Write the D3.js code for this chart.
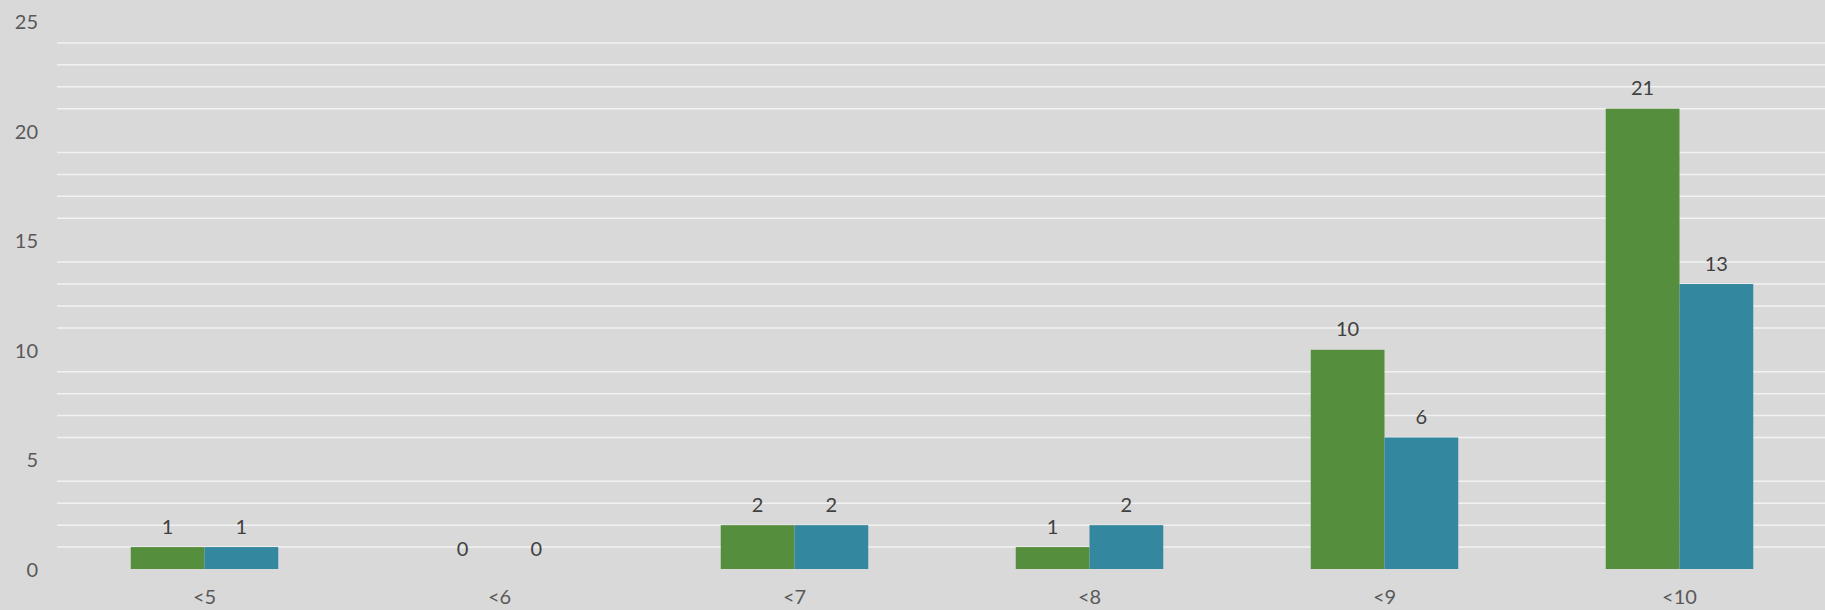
<!DOCTYPE html>
<html>
<head>
<meta charset="utf-8">
<script src="https://cdn.jsdelivr.net/npm/d3@7/dist/d3.min.js"></script>
<style>
  html, body { margin: 0; padding: 0; background: #D9D9D9; }
  svg { display: block; }
  text { font-family: "Lato", "Open Sans", sans-serif; }
</style>
</head>
<body>
<svg id="chart" width="1825" height="610"></svg>
<script>
const categories = ["<5", "<6", "<7", "<8", "<9", "<10"];
const seriesNames = ["A", "B"];
const seriesA = [1, 0, 2, 1, 10, 21];
const seriesB = [1, 0, 2, 2, 6, 13];
const yTicks = [0, 5, 10, 15, 20, 25];
const colors = ["#558E3C", "#33889F"];

const svg = d3.select("#chart");
const W = 1825, H = 610;
const left = 57, bandW = 295;
const x0 = d3.scaleBand().domain(categories).range([left, left + bandW * categories.length]).padding(0);
const x1 = d3.scaleBand().domain(seriesNames).range([bandW * 0.25, bandW * 0.75]).padding(0);
const y = d3.scaleLinear().domain([0, 25]).range([569, 21]);

svg.append("rect").attr("width", W).attr("height", H).attr("fill", "#D9D9D9");

// gridlines (minor, skipping multiples of 5)
const gridVals = d3.range(0, 26).filter(v => v % 5 !== 0);
svg.append("g").selectAll("line").data(gridVals).join("line")
  .attr("x1", left).attr("x2", W)
  .attr("y1", d => y(d)).attr("y2", d => y(d))
  .attr("stroke", "#F2F2F2").attr("stroke-width", 1.5);

// y axis labels
svg.append("g").selectAll("text").data(yTicks).join("text")
  .attr("x", 38).attr("y", d => y(d))
  .attr("text-anchor", "end").attr("dominant-baseline", "central")
  .attr("font-size", 20).attr("fill", "#595959")
  .text(d => d);

const data = categories.map((c, i) => ({ cat: c, vals: [seriesA[i], seriesB[i]] }));

const groups = svg.append("g").selectAll("g").data(data).join("g")
  .attr("transform", d => `translate(${x0(d.cat)},0)`);

groups.selectAll("rect").data(d => d.vals.map((v, j) => ({ v, s: seriesNames[j], j }))).join("rect")
  .attr("x", d => x1(d.s)).attr("width", x1.bandwidth())
  .attr("y", d => y(d.v)).attr("height", d => y(0) - y(d.v))
  .attr("fill", d => colors[d.j]);

groups.selectAll("text.val").data(d => d.vals.map((v, j) => ({ v, s: seriesNames[j], j }))).join("text")
  .attr("class", "val")
  .attr("x", d => x1(d.s) + x1.bandwidth() / 2)
  .attr("y", d => y(d.v) - 13.5)
  .attr("text-anchor", "middle")
  .attr("font-size", 20).attr("fill", "#404040")
  .text(d => d.v);

// x axis labels
svg.append("g").selectAll("text").data(categories).join("text")
  .attr("x", d => x0(d) + x0.bandwidth() / 2).attr("y", 604)
  .attr("text-anchor", "middle")
  .attr("font-size", 20).attr("fill", "#595959")
  .text(d => d);
</script>
</body>
</html>
